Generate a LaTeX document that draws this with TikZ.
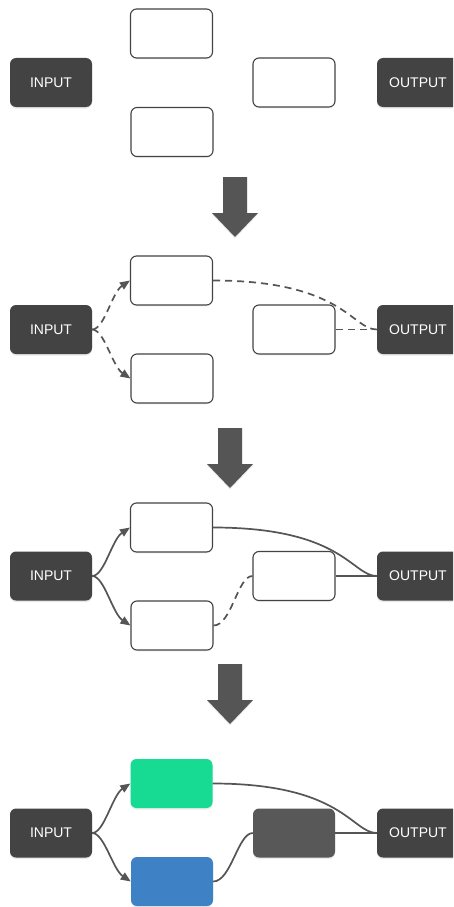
\documentclass[tikz,border=0pt]{standalone}
\usepackage{fontspec}
\setmainfont{Liberation Sans}
\usetikzlibrary{arrows.meta,shadows}
\definecolor{darkbox}{HTML}{434343}
\definecolor{wire}{HTML}{555555}
\definecolor{mint}{HTML}{17DA93}
\definecolor{azure}{HTML}{3E82C5}
\definecolor{slate}{HTML}{585858}
% big downward block arrow: #1 = centre x, #2 = top y
\newcommand\stepdown[2]{%
  \fill[wire, drop shadow={opacity=0.15, shadow xshift=0pt, shadow yshift=-1.5pt}]
    (#1-12,#2) -- (#1+12,#2) -- (#1+12,#2+36) -- (#1+23,#2+36)
    -- (#1,#2+60) -- (#1-23,#2+36) -- (#1-12,#2+36) -- cycle;}
\begin{document}
\begin{tikzpicture}[x=1pt,y=-1pt,
  blk/.style={rounded corners=6pt, minimum width=82pt, minimum height=49pt,
    inner sep=0pt, font=\fontsize{14}{16}\selectfont},
  io/.style={blk, fill=darkbox, text=white,
    drop shadow={opacity=0.18, shadow xshift=0pt, shadow yshift=-1.5pt}},
  hole/.style={blk, draw=darkbox, line width=1.1pt, fill=white,
    drop shadow={opacity=0.08, shadow xshift=0pt, shadow yshift=-1.5pt}},
  solidbox/.style={blk, fill=#1,
    drop shadow={opacity=0.15, shadow xshift=0pt, shadow yshift=-1.5pt}},
  link/.style={draw=wire, line width=1.7pt},
  tent/.style={link, dash pattern=on 7pt off 5pt},
  tip/.style={-{Triangle[length=10pt,width=8pt]}}
]
\useasboundingbox (0,0) rectangle (453,907);
\clip (0,0) rectangle (453,907);
\fill[white] (0,0) rectangle (453,907);

% ---- stage 1: empty slots ----
\node[io]   (in1)  at (51,82.5)    {INPUT};
\node[io]   (out1) at (418,82.5)   {OUTPUT};
\node[hole] (t1)   at (171.5,33.5) {};
\node[hole] (b1)   at (172,132)    {};
\node[hole] (m1)   at (294,82.5)   {};

\stepdown{235}{177}

% ---- stage 2: tentative wiring ----
\node[io]   (in2)  at (51,329.5)   {INPUT};
\node[io]   (out2) at (418,329.5)  {OUTPUT};
\node[hole] (t2)   at (171.5,280.5){};
\node[hole] (b2)   at (172,378.5)  {};
\node[hole] (m2)   at (294,329.5)  {};
\draw[tent,tip] (in2.east) .. controls +(12,0) and +(-18,12) .. (t2.west);
\draw[tent,tip] (in2.east) .. controls +(12,0) and +(-18,-12) .. (b2.west);
\draw[tent] (t2.east) .. controls +(130,0) and +(-25,0) .. (out2.west);
\draw[tent] (m2.east) -- (out2.west);

\stepdown{230}{428}

% ---- stage 3: partly fixed wiring ----
\node[io]   (in3)  at (51,576)     {INPUT};
\node[io]   (out3) at (418,576)    {OUTPUT};
\node[hole] (t3)   at (171.5,527.5){};
\node[hole] (b3)   at (172,625.5)  {};
\node[hole] (m3)   at (294,576)    {};
\draw[link,tip] (in3.east) .. controls +(12,0) and +(-18,12) .. (t3.west);
\draw[link,tip] (in3.east) .. controls +(12,0) and +(-18,-12) .. (b3.west);
\draw[link] (t3.east) .. controls +(130,0) and +(-25,0) .. (out3.west);
\draw[link] (m3.east) -- (out3.west);
\draw[tent] (b3.east) .. controls +(18,0) and +(-15,0) .. (m3.west);

\stepdown{230}{664}

% ---- stage 4: final network ----
\node[io]   (in4)  at (51,833)     {INPUT};
\node[io]   (out4) at (418,833)    {OUTPUT};
\node[solidbox=mint]  (t4) at (171.5,783.5) {};
\node[solidbox=azure] (b4) at (172,881.5)   {};
\node[solidbox=slate] (m4) at (294,833)     {};
\draw[link,tip] (in4.east) .. controls +(12,0) and +(-18,12) .. (t4.west);
\draw[link,tip] (in4.east) .. controls +(12,0) and +(-18,-12) .. (b4.west);
\draw[link] (t4.east) .. controls +(130,0) and +(-25,0) .. (out4.west);
\draw[link] (m4.east) -- (out4.west);
\draw[link] (b4.east) .. controls +(18,0) and +(-15,0) .. (m4.west);
\end{tikzpicture}
\end{document}
